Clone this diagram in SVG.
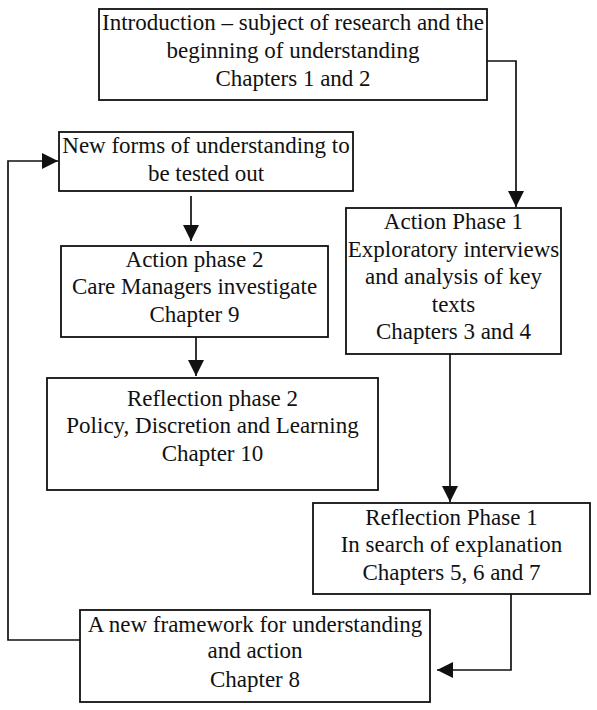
<svg xmlns="http://www.w3.org/2000/svg" width="597" height="710" viewBox="0 0 597 710">
<style>
.box{fill:#fff;stroke:#111;stroke-width:1.8}
.t{font-family:"Liberation Serif","Times New Roman",serif;font-size:23px;fill:#111;text-anchor:middle}
.c{fill:none;stroke:#111;stroke-width:1.7}
</style>
<defs>
<marker id="ah" markerUnits="userSpaceOnUse" markerWidth="17" markerHeight="17" refX="16" refY="8" orient="auto">
<path d="M0,0 L16,8 L0,16 z" fill="#111"/>
</marker>
</defs>
<rect width="597" height="710" fill="#fff"/>
<g id="connectors">
<path class="c" d="M487,61 H516 V207" marker-end="url(#ah)"/>
<path class="c" d="M191,196 V241" marker-end="url(#ah)"/>
<path class="c" d="M196,329 V376" marker-end="url(#ah)"/>
<path class="c" d="M450,354 V502" marker-end="url(#ah)"/>
<path class="c" d="M511,594 V670 H437" marker-end="url(#ah)"/>
<path class="c" d="M80,640 H8 V161 H58" marker-end="url(#ah)"/>
</g>
<g id="intro">
<rect class="box" x="99" y="9" width="388" height="91"/>
<text class="t" x="293" y="30">Introduction – subject of research and the</text>
<text class="t" x="293" y="58">beginning of understanding</text>
<text class="t" x="293" y="86">Chapters 1 and 2</text>
</g>
<g id="newforms">
<rect class="box" x="59" y="132" width="294" height="59"/>
<text class="t" x="206" y="153">New forms of understanding to</text>
<text class="t" x="206" y="181">be tested out</text>
</g>
<g id="action2">
<rect class="box" x="61" y="246" width="267" height="91"/>
<text class="t" x="194.5" y="267">Action phase 2</text>
<text class="t" x="194.5" y="294">Care Managers investigate</text>
<text class="t" x="194.5" y="322">Chapter 9</text>
</g>
<g id="reflection2">
<rect class="box" x="47" y="378" width="331" height="112"/>
<text class="t" x="212.5" y="406">Reflection phase 2</text>
<text class="t" x="212.5" y="433">Policy, Discretion and Learning</text>
<text class="t" x="212.5" y="461">Chapter 10</text>
</g>
<g id="action1">
<rect class="box" x="346" y="208" width="215" height="146"/>
<text class="t" x="453.5" y="229">Action Phase 1</text>
<text class="t" x="453.5" y="257">Exploratory interviews</text>
<text class="t" x="453.5" y="284">and analysis of key</text>
<text class="t" x="453.5" y="312">texts</text>
<text class="t" x="453.5" y="339">Chapters 3 and 4</text>
</g>
<g id="reflection1">
<rect class="box" x="313" y="503" width="277" height="91"/>
<text class="t" x="451.5" y="525">Reflection Phase 1</text>
<text class="t" x="451.5" y="552">In search of explanation</text>
<text class="t" x="451.5" y="580">Chapters 5, 6 and 7</text>
</g>
<g id="framework">
<rect class="box" x="80" y="610" width="350" height="92"/>
<text class="t" x="255" y="632">A new framework for understanding</text>
<text class="t" x="255" y="658">and action</text>
<text class="t" x="255" y="687">Chapter 8</text>
</g>
</svg>
